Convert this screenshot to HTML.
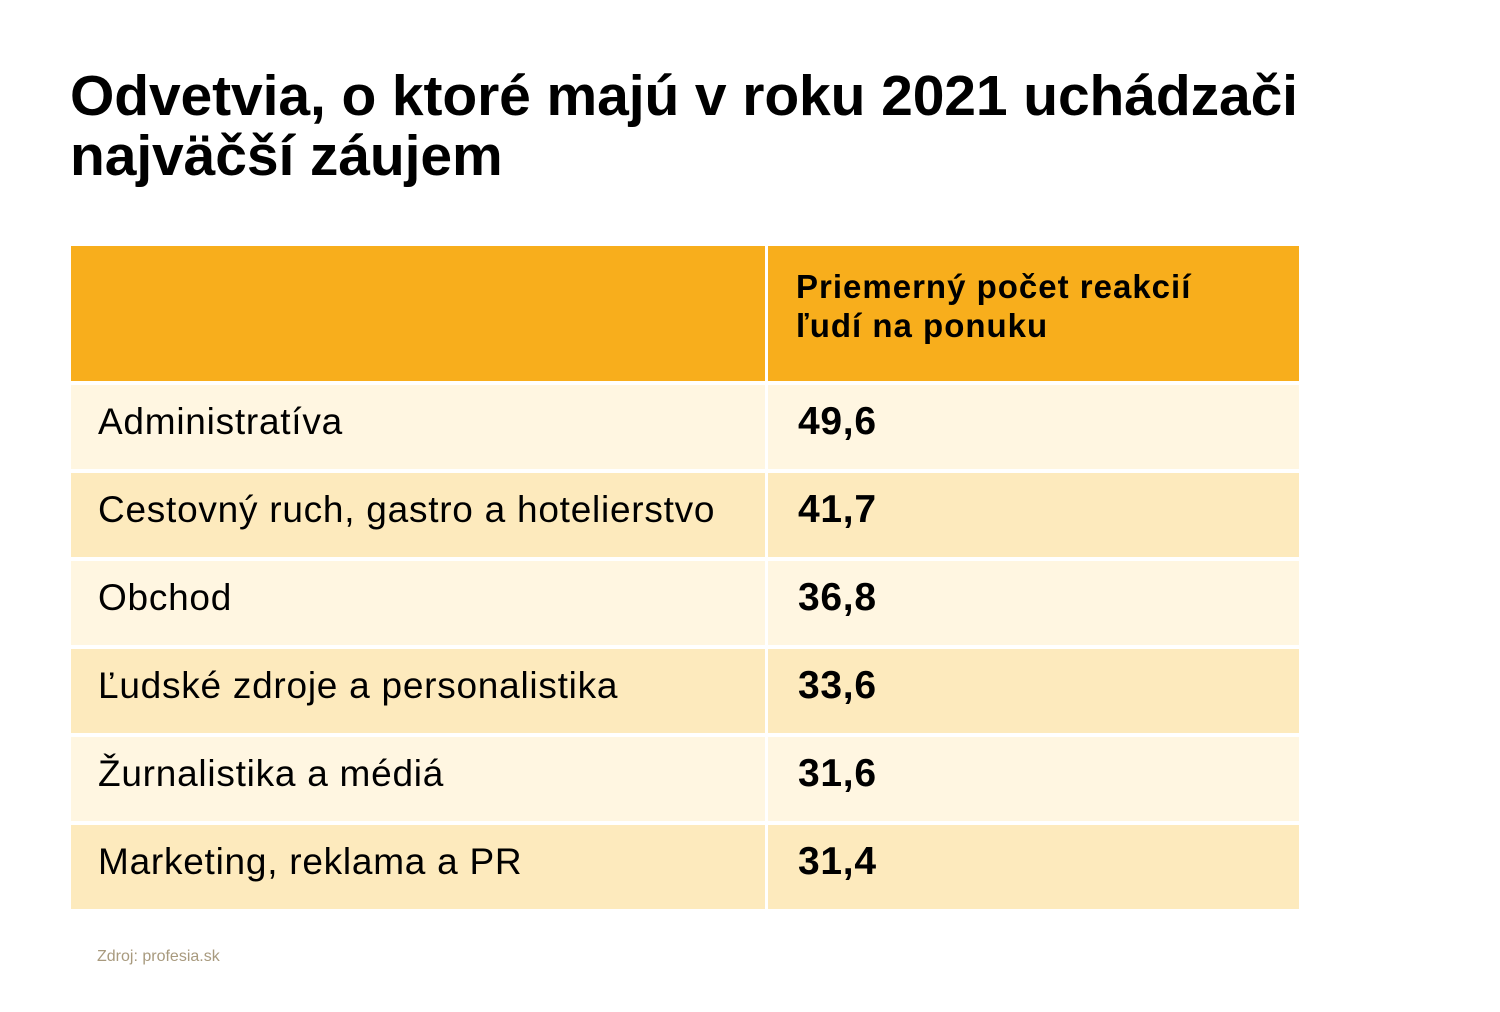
<!DOCTYPE html>
<html><head><meta charset="utf-8"><style>
body{margin:0;width:1500px;height:1012px;background:#fff;font-family:"Liberation Sans",sans-serif;position:relative;overflow:hidden}
h1{position:absolute;left:70px;top:66px;margin:0;font-size:57px;line-height:60px;font-weight:bold;color:#000;letter-spacing:-0.1px}
.c{position:absolute;box-sizing:border-box}
.l{left:71px;width:694px;padding-left:27px;font-size:37px;letter-spacing:0.75px;color:#000}
.r{left:768px;width:531px;padding-left:30px;font-size:39px;font-weight:bold;color:#000;letter-spacing:0.7px}
.o{background:#fff6e1}.e{background:#fdeabd}
.row{height:84px;line-height:74px}
.h{background:#f8ae1c;top:246px;height:135px}
.src{position:absolute;left:97px;top:948px;font-size:16px;color:#a89a7e}
</style></head><body>
<h1>Odvetvia, o ktoré majú v roku 2021 uchádzači<br>najväčší záujem</h1>
<div class="c h" style="left:71px;width:694px"></div>
<div class="c h" style="left:768px;width:531px;padding:21px 0 0 28px;font-size:33px;font-weight:bold;line-height:39px;letter-spacing:1px">Priemerný počet reakcií<br>ľudí na ponuku</div>

<div class="c l o row" style="top:385px">Administratíva</div><div class="c r o row" style="top:385px">49,6</div>
<div class="c l e row" style="top:473px">Cestovný ruch, gastro a hotelierstvo</div><div class="c r e row" style="top:473px">41,7</div>
<div class="c l o row" style="top:561px">Obchod</div><div class="c r o row" style="top:561px">36,8</div>
<div class="c l e row" style="top:649px">Ľudské zdroje a personalistika</div><div class="c r e row" style="top:649px">33,6</div>
<div class="c l o row" style="top:737px">Žurnalistika a médiá</div><div class="c r o row" style="top:737px">31,6</div>
<div class="c l e row" style="top:825px">Marketing, reklama a PR</div><div class="c r e row" style="top:825px">31,4</div>
<div class="src">Zdroj: profesia.sk</div>
</body></html>
